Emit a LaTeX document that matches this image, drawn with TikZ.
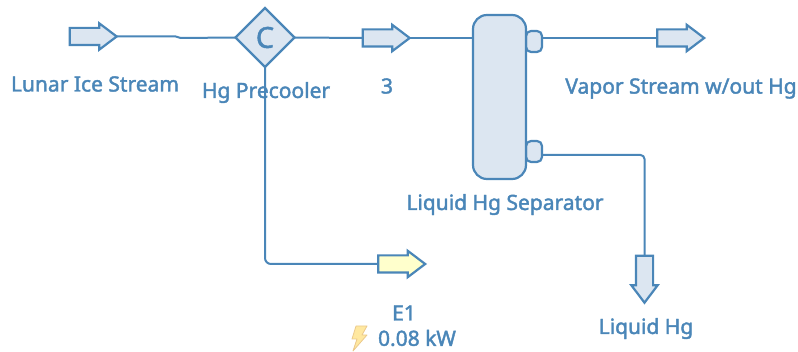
\documentclass[tikz,border=0pt]{standalone}
\usepackage{fontspec}
\setmainfont{Noto Sans}
\usepackage{xcolor}
\usetikzlibrary{
    shapes.geometric,
    shapes.arrows
}
\definecolor{streamblue}{HTML}{4A86B8}
\definecolor{unitfill}{HTML}{DCE6F1}
\definecolor{powerfill}{HTML}{FFFFCC}
\definecolor{boltfill}{HTML}{FFE8A0}
\definecolor{boltline}{HTML}{EBC98C}
\newcommand{\heavytext}{\special{pdf:code 2 Tr 0.4 w}}
\newcommand{\plaintext}{\special{pdf:code 0 Tr}}
\tikzset{
    stream/.style={draw=streamblue, line width=2pt},
    unit/.style={draw=streamblue, fill=unitfill, line width=2.2pt, inner sep=0, outer sep=0},
    port/.style={single arrow, single arrow tip angle=74, single arrow head extend=4.5pt,
        minimum height=47pt, inner sep=7.5pt, outer sep=0,
        draw=streamblue, fill=unitfill, line width=2.2pt},
    label/.style={text=streamblue, font=\fontsize{21}{23}\selectfont, inner sep=0,
        execute at begin node=\heavytext, execute at end node=\plaintext}
}
\begin{document}
\begin{tikzpicture}[x=1pt, y=-1pt]
    \useasboundingbox (0, 0) rectangle (798, 352);
    % units
    \node[unit, diamond, aspect=1, minimum size=59pt, text=streamblue,
        font=\fontsize{29}{31}\selectfont, execute at begin node=\heavytext,
        execute at end node=\plaintext] (precooler) at (265, 37.5) {C};
    \node[unit, rounded corners=5pt, minimum width=16pt, minimum height=21pt] (vaporport) at (534, 41.5) {};
    \node[unit, rounded corners=5pt, minimum width=16pt, minimum height=21pt] (liquidport) at (534, 151.5) {};
    \node[unit, rounded corners=14pt, minimum width=53pt, minimum height=164pt] (separator) at (499.5, 97) {};
    % streams
    \node[port] (feed) at (87.5, 36.5) {};
    \node[port] (mid) at (380.5, 38) {};
    \node[port] (vapor) at (675, 38) {};
    \node[port, shape border rotate=270] (liquid) at (644.5, 273.5) {};
    \node[port, fill=powerfill] (power) at (396, 264) {};
    \coordinate (vaporout) at ([yshift=3.5pt]vaporport.east);
    \coordinate (liquidout) at ([yshift=-3.5pt]liquidport.east);
    \coordinate (midin) at (separator.west |- mid.tip);
    \draw[stream] (feed.tip) -- ++(59, 0) -- ++(5, 1.5) -- (precooler.west);
    \draw[stream] (precooler.east) -- (mid.tail);
    \draw[stream] (mid.tip) -- (midin);
    \draw[stream] (vaporout) -- (vapor.tail);
    \draw[stream, rounded corners=4pt] (liquidout) -| (liquid.tail);
    \draw[stream, rounded corners=6pt] (precooler.south) |- (power.tail);
    % labels
    \node[label] (feedlabel) at (95, 84) {Lunar Ice Stream};
    \node[label] (precoolerlabel) at (266, 92.5) {Hg Precooler};
    \node[label] (midlabel) at (387, 86) {3};
    \node[label] (vaporlabel) at (681, 88.5) {Vapor Stream w/out Hg};
    \node[label] (separatorlabel) at (505, 204.5) {Liquid Hg Separator};
    \node[label] (powerlabel) at (404, 313) {E1};
    \node[label] (dutylabel) at (417, 338) {0.08 kW};
    \node[label] (liquidlabel) at (646, 328.5) {Liquid Hg};
    \draw[draw=boltline, fill=boltfill, line width=0.8pt, line join=round]
    (356, 326) -- (367, 326) -- (362, 335) -- (367, 335) -- (353, 351) -- (357, 339) -- (352, 339) -- cycle;
\end{tikzpicture}
\end{document}
